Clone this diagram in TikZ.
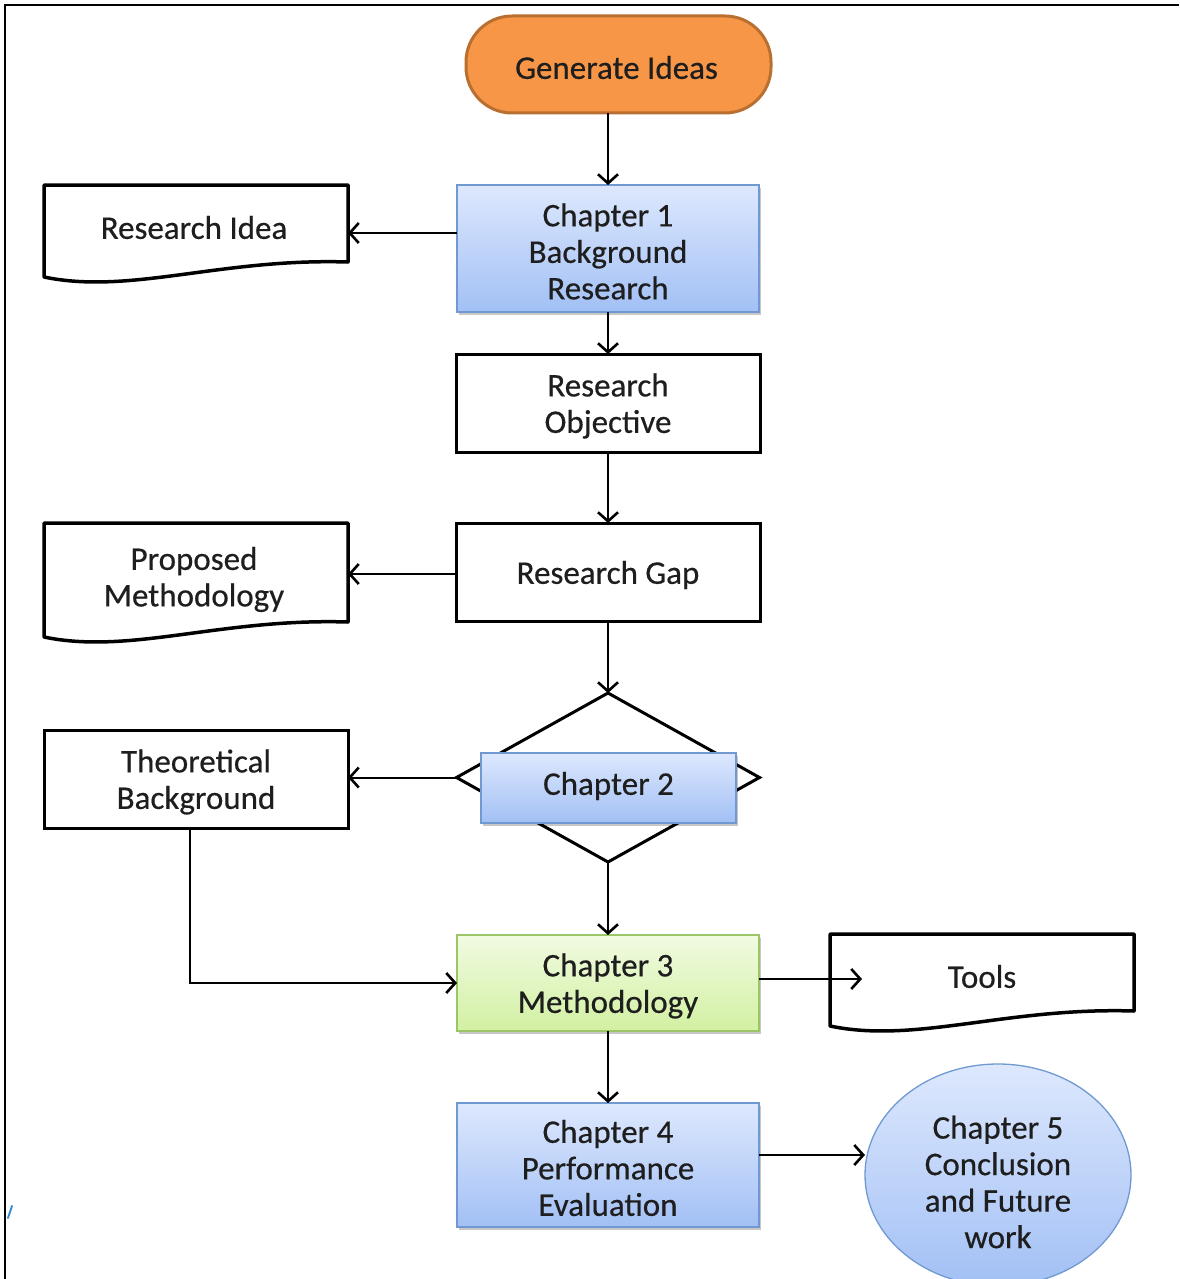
\documentclass[tikz,border=0pt]{standalone}
\usepackage{fontspec}
\setmainfont{Carlito}[FakeBold=0.45]
\usetikzlibrary{arrows.meta,shapes.geometric,shadows,calc}
\definecolor{txt}{HTML}{1E1E1E}
\definecolor{orangef}{HTML}{F79646}
\definecolor{oranged}{HTML}{B96F30}
\definecolor{bluet}{HTML}{DDE8FD}
\definecolor{blueb}{HTML}{A2C0F5}
\definecolor{blueline}{HTML}{7099D1}
\definecolor{greent}{HTML}{F1FBE2}
\definecolor{greenb}{HTML}{D2F0A2}
\definecolor{greenline}{HTML}{9CC567}
\definecolor{strayblue}{HTML}{3A8FD0}
\newcommand\mydocshape[1]{%
  \draw[docline] (#1.north west) -- (#1.north east) -- ($(#1.south east)+(0,-8)$)
   .. controls ($(#1.south west)!0.579!(#1.south east)+(0,-12)$) and ($(#1.south west)!0.283!(#1.south east)+(0,25)$) ..
   ($(#1.south west)+(0,7)$) -- cycle;}
\begin{document}
\begin{tikzpicture}[x=1pt,y=-1pt,
  every node/.style={font=\fontsize{33}{36.5}\selectfont, text=txt, align=center, inner sep=0pt, outer sep=0pt},
  arr/.style={line width=2pt, -{Straight Barb[length=9pt,width=20pt,line width=2.6pt]}},
  plainbox/.style={draw=black, line width=3pt, fill=white, minimum width=304pt},
  shadowed/.style={drop shadow={shadow xshift=1.5pt, shadow yshift=-3pt, fill=black, opacity=0.22}},
  bluebox/.style={draw=blueline, line width=1.3pt, top color=bluet, bottom color=blueb, shadowed},
  greenbox/.style={draw=greenline, line width=1.3pt, top color=greent, bottom color=greenb, shadowed},
  docnode/.style={minimum width=304pt},
  docline/.style={line width=3.5pt, line join=round, fill=white},
  lower/.style={yshift=-3pt}
]
\useasboundingbox (0,0) rectangle (1179,1279);
% page frame (left and top edges only)
\draw[line width=2.5pt] (5,1279) -- (5,5) -- (1179,5);
\draw[strayblue, line width=2pt, line cap=round] (8,1218) .. controls (10,1212) .. (12,1206);

% main column
\node[draw=oranged, fill=orangef, line width=3pt, rounded corners=46pt,
      minimum width=305pt, minimum height=97pt] (gen) at (618.5,64.5) {};
\node[lower] at ($(gen.center)+(-2,0)$) {Generate Ideas};
\node[bluebox, minimum width=302pt, minimum height=127pt] (ch1) at (608,248.5) {};
\node[lower] at (ch1.center) {Chapter 1\\Background\\Research};
\node[plainbox, minimum height=98pt] (ro) at (608,403) {};
\node[lower] at (ro.center) {Research\\Objective};
\node[plainbox, minimum height=98pt] (rg) at (608,572) {};
\node[lower] at (rg.center) {Research Gap};
\node[draw=black, line width=3pt, fill=white, diamond, minimum width=303pt, minimum height=169pt] (dia) at (608,777.5) {};
\node[bluebox, minimum width=255pt, minimum height=70pt] (ch2) at (608.5,788) {};
\node[yshift=2pt] at (ch2.center) {Chapter 2};
\node[greenbox, minimum width=302pt, minimum height=96pt] (ch3) at (608,983) {};
\node[lower] at (ch3.center) {Chapter 3\\Methodology};
\node[bluebox, minimum width=302pt, minimum height=124pt] (ch4) at (608,1165) {};
\node[lower] at (ch4.center) {Chapter 4\\Performance\\Evaluation};

% side shapes
\node[docnode, minimum height=85pt] (ri) at (196,227.5) {};
\mydocshape{ri}
\node at ($(ri.center)+(-2,0)$) {Research Idea};
\node[docnode, minimum height=107pt] (pm) at (196,576.5) {};
\mydocshape{pm}
\node[lower] at ($(pm.center)+(-2,0)$) {Proposed\\Methodology};
\node[plainbox, minimum height=98pt] (tb) at (196,779) {};
\node[lower] at (tb.center) {Theoretical\\Background};
\node[docnode, minimum height=85pt] (tools) at (982,976.5) {};
\mydocshape{tools}
\node at (tools.center) {Tools};
\node[ellipse, draw=blueline, line width=1.3pt, top color=bluet, bottom color=blueb,
      minimum width=266pt, minimum height=222pt] (ch5) at (998,1175) {};
\node at ($(ch5.center)+(0,7)$) {Chapter 5\\Conclusion\\and Future\\work};

% connectors
\draw[arr] (gen.south -| ch1.north) -- (ch1.north);
\draw[arr] (ch1.south) -- (ro.north);
\draw[arr] (ro.south) -- (rg.north);
\draw[arr] (rg.south) -- (dia.north);
\draw[arr] (dia.south) -- (ch3.north);
\draw[arr] (ch3.south) -- (ch4.north);
\coordinate (a1) at ($(ch1.west)+(0,-15.5)$);
\draw[arr] (a1) -- (a1 -| ri.east);
\coordinate (a2) at ($(rg.west)+(0,2)$);
\draw[arr] (a2) -- (a2 -| pm.east);
\draw[arr] (dia.west) -- (dia.west -| tb.east);
\coordinate (a3) at ($(tb.south)+(-6,0)$);
\draw[arr] (a3) |- (ch3.west);
\coordinate (a4) at ($(ch3.east)+(0,-4)$);
\coordinate (a4e) at ($(a4 -| tools.west)+(32,0)$);
\draw[arr] (a4) -- (a4e);
\coordinate (a5) at ($(ch4.east)+(0,-10)$);
\draw[arr] (a5) -- (a5 -| ch5.west);
\end{tikzpicture}
\end{document}
